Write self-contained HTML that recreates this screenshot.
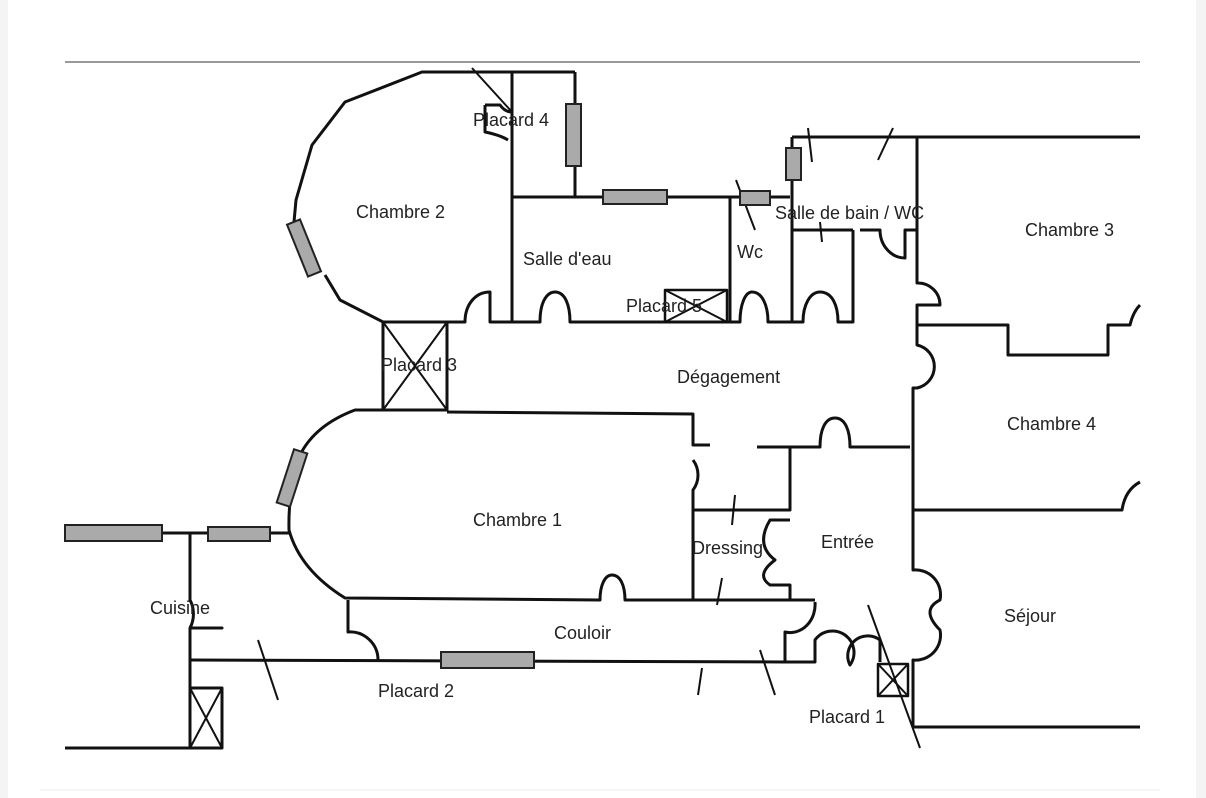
<!DOCTYPE html>
<html><head><meta charset="utf-8"><style>
html,body{margin:0;padding:0;background:#f4f4f4;}
#c{position:absolute;left:8px;top:0;width:1188px;height:798px;background:#fff;}
svg{position:absolute;left:0;top:0;}
text{font-family:"Liberation Sans",sans-serif;font-size:18px;fill:#222;}
</style></head><body>
<div id="c"></div>
<svg width="1206" height="798" viewBox="0 0 1206 798">
<line x1="65" y1="62" x2="1140" y2="62" stroke="#999" stroke-width="2"/>
<line x1="40" y1="790" x2="1160" y2="790" stroke="#eee" stroke-width="1"/>
<g fill="none" stroke="#111" stroke-width="3" stroke-linejoin="round">
<!-- Chambre 2 -->
<path d="M575,72 L422,72 L345,102 L312,145 L296,200 L294,222"/>
<path d="M325,275 L340,300 L383,322 L465,322 C465,305 475,292 490,292 L490,322 L512,322"/>
<path d="M512,72 L512,322"/>
<path d="M575,72 L575,197"/>
<path d="M512,197 L730,197 L790,197"/>
<path d="M485,105 L485,132 Q500,135 508,140 M485,105 L500,105 Q505,112 512,112"/>
<line x1="472" y1="68" x2="512" y2="112" stroke-width="2"/>
<!-- Salle d'eau bottom -->
<path d="M512,322 L540,322 C540,300 548,292 555,292 C565,292 570,305 570,322 L730,322"/>
<path d="M730,197 L730,322 L740,322 C740,305 745,292 752,292 C762,292 768,305 768,322 L792,322"/>
<line x1="736" y1="180" x2="755" y2="230" stroke-width="2"/>
<!-- Salle de bain -->
<path d="M792,137 L1140,137"/>
<path d="M792,137 L792,322 L803,322 C803,305 810,292 820,292 C832,292 838,305 838,322 L853,322 L853,230"/>
<path d="M792,230 L853,230 M860,230 L880,230 A25,28 0 0 0 905,258 L905,230 L917,230"/>
<line x1="808" y1="128" x2="812" y2="162" stroke-width="2"/>
<line x1="893" y1="128" x2="878" y2="160" stroke-width="2"/>
<line x1="820" y1="222" x2="822" y2="242" stroke-width="2"/>
<!-- right column -->
<path d="M917,137 L917,283 A22,22 0 0 1 940,305 L917,305 L917,345 A22,22 0 0 1 917,388 L913,388 L913,447 L913,510 L913,570 A25,25 0 0 1 940,600 Q920,610 940,630 A25,25 0 0 1 913,660 L913,727"/>
<path d="M917,325 L1008,325 L1008,355 L1108,355 L1108,325 L1130,325 Q1133,312 1140,305"/>
<path d="M913,510 L1122,510 Q1125,490 1140,482"/>
<path d="M913,727 L1140,727"/>
<!-- Placard 3 -->
<rect x="383" y="322" width="64" height="88"/>
<path d="M383,322 L447,410 M447,322 L383,410" stroke-width="2"/>
<!-- Placard 5 -->
<rect x="665" y="290" width="62" height="32" stroke-width="2.5"/>
<path d="M665,290 L727,322 M727,290 L665,322" stroke-width="2"/>
<!-- Chambre 1 -->
<path d="M447,410 L355,410 Q315,425 300,455 Q288,490 289,530 Q300,570 345,598 L600,600 C600,585 605,575 612,575 C620,575 625,585 625,600 L693,600"/>
<path d="M447,412 L693,414 L693,445 L710,445 M693,460 A25,25 0 0 1 693,490 L693,600"/>
<path d="M757,447 L820,447 C820,430 825,418 835,418 C845,418 850,430 850,447 L910,447"/>
<!-- Dressing -->
<path d="M693,510 L790,510 L790,447 M790,520 L770,520 Q755,545 775,560 Q755,575 770,585 L790,585 L790,600"/>
<path d="M693,600 L815,600"/>
<line x1="735" y1="495" x2="732" y2="525" stroke-width="2"/>
<line x1="722" y1="578" x2="717" y2="605" stroke-width="2"/>
<!-- Couloir -->
<path d="M348,600 L348,632 A28,28 0 0 1 378,660"/>
<path d="M190,660 L785,662 L785,632 A25,28 0 0 0 815,602"/>
<path d="M785,662 L815,662 L815,640 A20,20 0 0 1 850,665 A20,20 0 0 1 880,640 L880,662"/>
<line x1="868" y1="605" x2="920" y2="748" stroke-width="2"/>
<line x1="258" y1="640" x2="278" y2="700" stroke-width="2"/>
<line x1="702" y1="668" x2="698" y2="695" stroke-width="2"/>
<line x1="760" y1="650" x2="775" y2="695" stroke-width="2"/>
<!-- Cuisine -->
<path d="M65,533 L290,533"/>
<path d="M190,533 L190,600 A20,25 0 0 1 190,628 L222,628 L190,628 L190,748 L65,748"/>
<rect x="190" y="688" width="32" height="60"/>
<path d="M190,688 L222,748 M222,688 L190,748" stroke-width="2"/>
<!-- Placard 1 -->
<rect x="878" y="664" width="30" height="32" stroke-width="2.5"/>
<path d="M878,664 L908,696 M908,664 L878,696" stroke-width="2"/>
</g>
<g fill="#aaa" stroke="#222" stroke-width="2">
<rect x="566" y="104" width="15" height="62"/>
<rect x="603" y="190" width="64" height="14"/>
<rect x="740" y="191" width="30" height="14"/>
<rect x="786" y="148" width="15" height="32"/>
<rect x="297" y="220" width="14" height="56" transform="rotate(-22 304 248)"/>
<rect x="285" y="450" width="14" height="56" transform="rotate(18 292 478)"/>
<rect x="65" y="525" width="97" height="16"/>
<rect x="208" y="527" width="62" height="14"/>
<rect x="441" y="652" width="93" height="16"/>
</g>
<text x="356" y="218">Chambre 2</text>
<text x="473" y="126">Placard 4</text>
<text x="523" y="265">Salle d'eau</text>
<text x="737" y="258">Wc</text>
<text x="775" y="219">Salle de bain / WC</text>
<text x="1025" y="236">Chambre 3</text>
<text x="626" y="312">Placard 5</text>
<text x="381" y="371">Placard 3</text>
<text x="677" y="383">Dégagement</text>
<text x="1007" y="430">Chambre 4</text>
<text x="473" y="526">Chambre 1</text>
<text x="692" y="554">Dressing</text>
<text x="821" y="548">Entrée</text>
<text x="150" y="614">Cuisine</text>
<text x="554" y="639">Couloir</text>
<text x="1004" y="622">Séjour</text>
<text x="378" y="697">Placard 2</text>
<text x="809" y="723">Placard 1</text>
</svg>
</body></html>
